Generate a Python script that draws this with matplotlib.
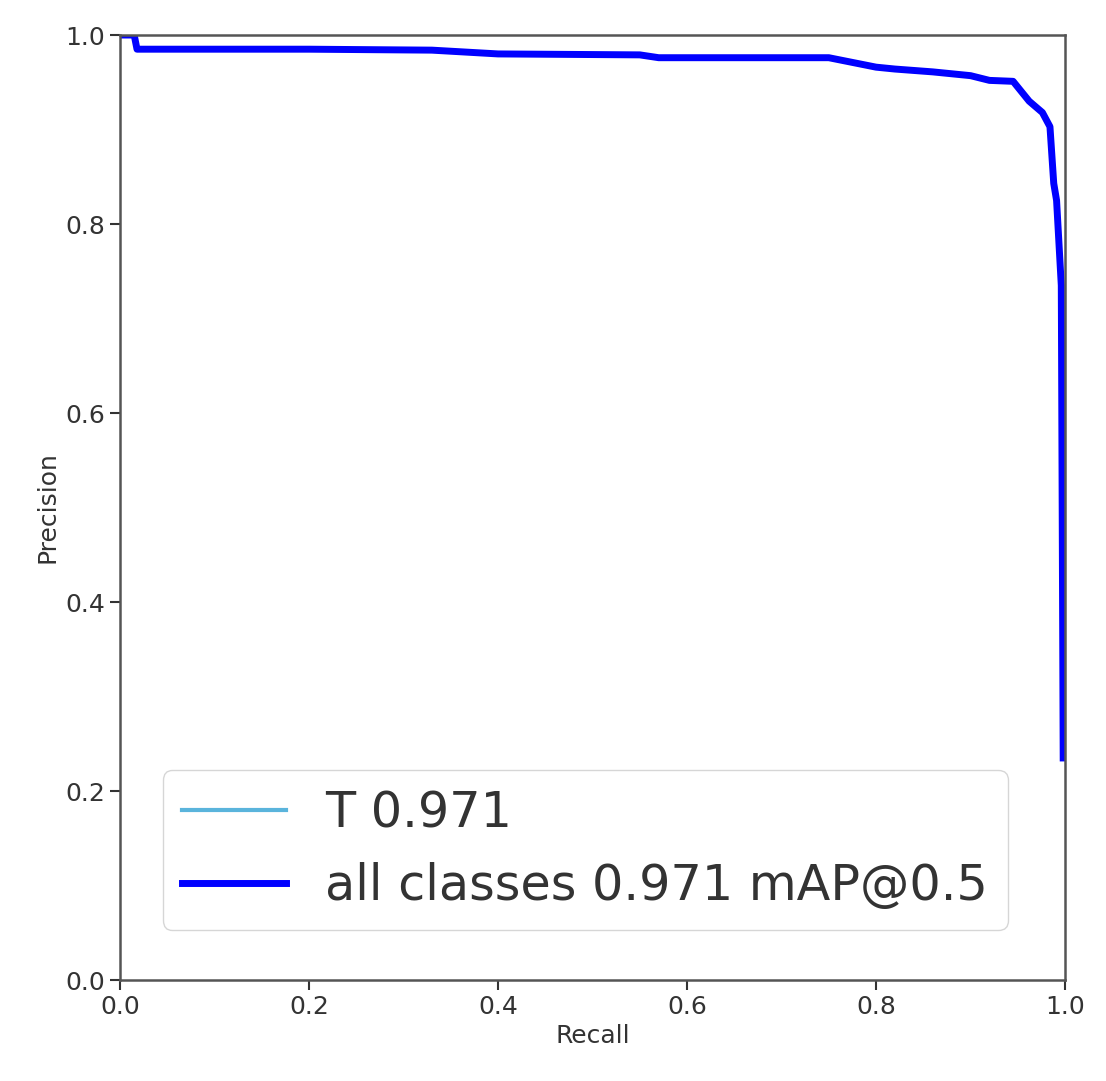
import numpy as np
import matplotlib
matplotlib.use("Agg")
import matplotlib.pyplot as plt

# PR curve
recall = [0.0, 0.015, 0.018, 0.20, 0.33, 0.40, 0.55, 0.57, 0.75, 0.77, 0.80,
          0.82, 0.86, 0.90, 0.92, 0.945, 0.962, 0.976, 0.984, 0.988, 0.991,
          0.996, 0.998]
precision = [1.0, 1.0, 0.985, 0.985, 0.984, 0.980, 0.979, 0.976, 0.976, 0.972,
             0.966, 0.964, 0.961, 0.957, 0.952, 0.951, 0.930, 0.918, 0.903,
             0.843, 0.825, 0.735, 0.235]

class_name = "T"
class_ap = 0.971
map50 = 0.971

fig = plt.figure(figsize=(11.06, 10.81), dpi=100)
ax = fig.add_axes([0.1085, 0.0934, 0.8545, 0.8742])

ax.plot(recall, precision, color='#5ab4dc', linewidth=3,
        label=f'{class_name} {class_ap:.3f}')
ax.plot(recall, precision, color='blue', linewidth=5,
        label=f'all classes {map50:.3f} mAP@0.5')

ax.set_xlim(0, 1)
ax.set_ylim(0, 1)
ax.set_xticks(np.arange(0, 1.01, 0.2))
ax.set_yticks(np.arange(0, 1.01, 0.2))
ax.tick_params(labelsize=18, colors='#333333', length=7, width=1.5)
ax.set_xlabel('Recall', fontsize=18, color='#333333')
ax.set_ylabel('Precision', fontsize=18, color='#333333')
for s in ax.spines.values():
    s.set_color('#555555')
    s.set_linewidth(1.8)

ax.legend(loc='lower left', bbox_to_anchor=(0.045, 0.053), borderaxespad=0,
          fontsize=35.5, handlelength=2.1, labelcolor='#333333')

fig.savefig('out.png', dpi=100, facecolor='white')
